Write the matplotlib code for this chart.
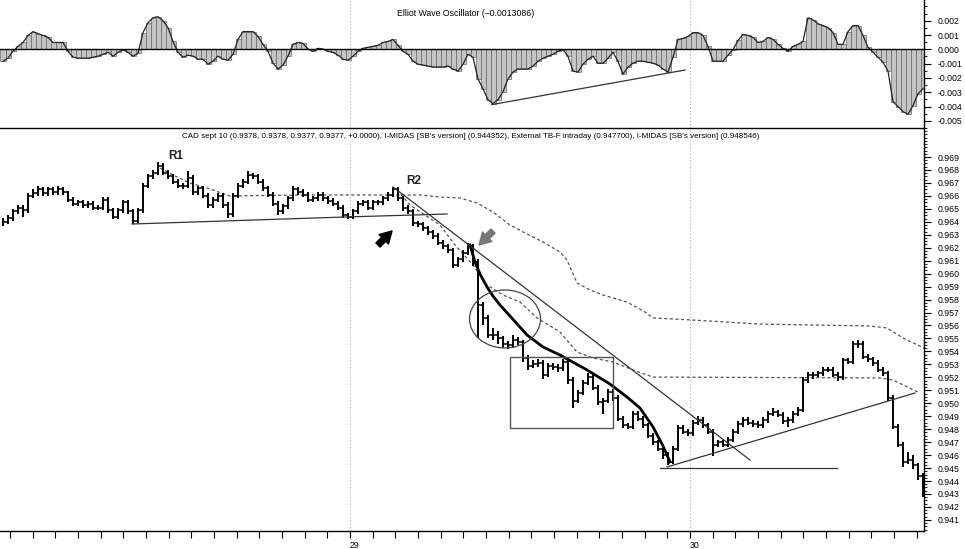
# CAD intraday chart with Elliott wave oscillator, MIDAS curves and annotations

import numpy as np
import matplotlib
matplotlib.use("Agg")
import matplotlib.pyplot as plt
from matplotlib.patches import Rectangle, Ellipse

plt.rcParams["font.family"] = ["Liberation Sans", "DejaVu Sans"]
plt.rcParams["axes.unicode_minus"] = False

# -----------------------------
# DATA  (prices quoted in pips = 1/10000)
# -----------------------------
PIP = 1e-4

high_pips = [
    9643, 9645, 9650, 9653, 9653, 9662, 9665, 9668, 9667, 9667,
    9667, 9668, 9667, 9664, 9659, 9657, 9657, 9656, 9656, 9653,
    9659, 9659, 9651, 9651, 9657, 9657, 9650, 9651, 9670, 9677,
    9680, 9686, 9685, 9680, 9677, 9673, 9670, 9679, 9676, 9668,
    9668, 9662, 9659, 9662, 9662, 9655, 9662, 9670, 9673, 9679,
    9678, 9677, 9673, 9668, 9663, 9656, 9654, 9660, 9668, 9667,
    9665, 9663, 9660, 9663, 9663, 9660, 9658, 9656, 9653, 9647,
    9650, 9656, 9657, 9657, 9657, 9657, 9660, 9663, 9667, 9667,
    9660, 9653, 9650, 9641, 9640, 9637, 9634, 9631, 9626, 9623,
    9620, 9613, 9618, 9624, 9623, 9611, 9578, 9568, 9558, 9556,
    9552, 9548, 9553, 9551, 9549, 9537, 9533, 9534, 9533, 9531,
    9531, 9530, 9534, 9534, 9520, 9510, 9518, 9523, 9522, 9514,
    9504, 9511, 9511, 9506, 9490, 9485, 9494, 9494, 9490, 9485,
    9477, 9472, 9467, 9462, 9467, 9483, 9483, 9480, 9487, 9490,
    9489, 9485, 9480, 9472, 9472, 9474, 9480, 9486, 9489, 9489,
    9487, 9486, 9489, 9494, 9496, 9495, 9493, 9489, 9494, 9497,
    9520, 9524, 9524, 9525, 9528, 9528, 9528, 9524, 9535, 9535,
    9548, 9549, 9548, 9538, 9536, 9533, 9528, 9525, 9506, 9484,
    9470, 9462, 9460, 9454, 9446,
]

low_pips = [
    9637, 9638, 9641, 9646, 9644, 9647, 9658, 9660, 9660, 9660,
    9661, 9661, 9661, 9655, 9652, 9652, 9651, 9651, 9649, 9649,
    9649, 9647, 9642, 9642, 9647, 9646, 9638, 9639, 9647, 9666,
    9673, 9676, 9676, 9673, 9669, 9666, 9665, 9666, 9661, 9661,
    9658, 9651, 9651, 9655, 9651, 9643, 9644, 9658, 9666, 9669,
    9673, 9669, 9664, 9659, 9652, 9645, 9646, 9650, 9656, 9661,
    9659, 9655, 9655, 9656, 9656, 9654, 9652, 9649, 9643, 9642,
    9642, 9646, 9652, 9649, 9649, 9653, 9653, 9656, 9659, 9656,
    9648, 9646, 9637, 9636, 9633, 9630, 9627, 9622, 9619, 9616,
    9604, 9605, 9609, 9614, 9606, 9550, 9560, 9550, 9549, 9546,
    9543, 9542, 9543, 9545, 9532, 9526, 9527, 9528, 9519, 9520,
    9526, 9524, 9525, 9515, 9496, 9500, 9506, 9514, 9510, 9499,
    9492, 9500, 9502, 9486, 9481, 9480, 9480, 9486, 9481, 9473,
    9468, 9463, 9457, 9452, 9453, 9463, 9476, 9475, 9475, 9483,
    9481, 9476, 9459, 9466, 9466, 9466, 9470, 9476, 9482, 9483,
    9482, 9481, 9481, 9485, 9490, 9489, 9484, 9482, 9485, 9490,
    9493, 9516, 9519, 9520, 9521, 9524, 9520, 9517, 9518, 9530,
    9530, 9543, 9534, 9532, 9529, 9524, 9521, 9502, 9480, 9466,
    9451, 9453, 9449, 9441, 9428,
]

close_pips = [
    9640, 9643, 9648, 9651, 9649, 9660, 9662, 9665, 9662, 9665,
    9663, 9665, 9663, 9657, 9654, 9655, 9653, 9654, 9651, 9651,
    9657, 9649, 9644, 9649, 9655, 9648, 9641, 9649, 9668, 9675,
    9678, 9683, 9678, 9675, 9671, 9668, 9668, 9674, 9663, 9666,
    9660, 9653, 9657, 9660, 9653, 9646, 9660, 9668, 9671, 9676,
    9675, 9671, 9666, 9661, 9654, 9648, 9652, 9658, 9665, 9663,
    9661, 9657, 9658, 9661, 9658, 9656, 9654, 9651, 9645, 9644,
    9648, 9654, 9655, 9651, 9655, 9655, 9658, 9661, 9665, 9658,
    9651, 9648, 9639, 9638, 9635, 9632, 9629, 9624, 9621, 9618,
    9607, 9611, 9616, 9621, 9609, 9576, 9566, 9553, 9553, 9550,
    9546, 9545, 9549, 9547, 9535, 9529, 9530, 9531, 9522, 9529,
    9528, 9527, 9532, 9518, 9502, 9508, 9516, 9520, 9512, 9501,
    9502, 9509, 9504, 9488, 9483, 9482, 9492, 9488, 9483, 9475,
    9470, 9465, 9460, 9455, 9465, 9481, 9478, 9477, 9485, 9487,
    9483, 9478, 9468, 9470, 9468, 9472, 9478, 9484, 9487, 9485,
    9484, 9483, 9487, 9492, 9493, 9491, 9486, 9487, 9492, 9495,
    9518, 9522, 9522, 9523, 9526, 9526, 9522, 9520, 9533, 9532,
    9546, 9546, 9536, 9534, 9531, 9526, 9523, 9504, 9482, 9468,
    9455, 9456, 9452, 9444, 9433,
]

# Elliott wave oscillator, one value per bar
osc = [
    -0.00083, -0.00062, -0.00014, 0.00021, 0.00048, 0.00097, 0.00124, 0.00110, 0.00097, 0.00083,
    0.00048, 0.00048, 0.00048, -0.00014, -0.00055, -0.00062, -0.00062, -0.00062, -0.00055, -0.00048,
    -0.00035, -0.00021, -0.00048, -0.00021, -0.00003, -0.00021, -0.00048, -0.00028, 0.00117, 0.00186,
    0.00221, 0.00228, 0.00200, 0.00152, 0.00055, -0.00021, -0.00055, -0.00041, -0.00048, -0.00069,
    -0.00069, -0.00104, -0.00083, -0.00048, -0.00069, -0.00076, -0.00035, 0.00069, 0.00124, 0.00124,
    0.00124, 0.00090, 0.00035, -0.00014, -0.00097, -0.00138, -0.00110, -0.00048, 0.00035, 0.00048,
    0.00041, 0.00002, -0.00014, 0.00007, 0.00002, -0.00014, -0.00021, -0.00041, -0.00069, -0.00076,
    -0.00048, -0.00014, 0.00007, 0.00014, 0.00021, 0.00028, 0.00048, 0.00055, 0.00069, 0.00028,
    -0.00014, -0.00035, -0.00083, -0.00104, -0.00110, -0.00117, -0.00124, -0.00124, -0.00124, -0.00117,
    -0.00138, -0.00152, -0.00104, -0.00035, -0.00055, -0.00207, -0.00276, -0.00352, -0.00380, -0.00352,
    -0.00297, -0.00207, -0.00159, -0.00138, -0.00138, -0.00138, -0.00117, -0.00083, -0.00062, -0.00048,
    -0.00035, -0.00014, -0.00003, -0.00048, -0.00152, -0.00159, -0.00104, -0.00069, -0.00048, -0.00097,
    -0.00097, -0.00062, -0.00021, -0.00083, -0.00173, -0.00124, -0.00097, -0.00083, -0.00083, -0.00090,
    -0.00097, -0.00110, -0.00138, -0.00159, -0.00055, 0.00069, 0.00076, 0.00090, 0.00117, 0.00117,
    0.00097, 0.00021, -0.00083, -0.00083, -0.00083, -0.00041, -0.00002, 0.00062, 0.00104, 0.00097,
    0.00083, 0.00048, 0.00055, 0.00083, 0.00069, 0.00035, 0.00007, -0.00014, 0.00021, 0.00035,
    0.00055, 0.00221, 0.00207, 0.00179, 0.00166, 0.00152, 0.00117, 0.00035, 0.00035, 0.00124,
    0.00166, 0.00166, 0.00097, 0.00014, -0.00021, -0.00055, -0.00090, -0.00152, -0.00366, -0.00400,
    -0.00435, -0.00455, -0.00393, -0.00311, -0.00276,
]

# session boundaries (bar index) and day labels
day_bars = [69.4, 137.4]
day_labels = ["29", "30"]
BARS_PER_DAY = 68

# I-MIDAS from R1 (dashed)
midas_r1_x = [31.4, 34.4, 37.4, 40.8, 45.4, 59.4, 83.4, 87.4, 91.4, 94.8, 98.0, 101.4, 104.8,
              108.0, 111.4, 112.8, 114.8, 117.4, 120.0, 124.8, 128.4, 130.0, 138.0, 151.4,
              173.4, 176.8, 180.0, 184.2]
midas_r1_y = [0.96815, 0.96753, 0.96699, 0.96661, 0.96599, 0.96607, 0.96607, 0.96591, 0.96584,
              0.96545, 0.96476, 0.96375, 0.96306, 0.96244, 0.96167, 0.96105, 0.95928, 0.95874,
              0.95835, 0.95781, 0.95704, 0.95658, 0.95642, 0.95611, 0.95596, 0.95581, 0.95503,
              0.95426]

# I-MIDAS from R2 (dashed)
midas_r2_x = [78.8, 81.4, 84.4, 87.4, 90.4, 94.0, 96.8, 100.0, 103.4, 106.8, 111.4, 114.8,
              118.0, 122.0, 126.0, 130.0, 175.4, 178.0, 183.4]
midas_r2_y = [0.96645, 0.96530, 0.96452, 0.96375, 0.96221, 0.96067, 0.95912, 0.95835, 0.95781,
              0.95658, 0.95550, 0.95395, 0.95349, 0.95318, 0.95257, 0.95202, 0.95195, 0.95179,
              0.95079]

# topfinder / bottomfinder curve (thick solid)
tbf_x = [93.4, 94.4, 95.4, 96.8, 98.0, 99.4, 101.4, 104.8, 108.0, 111.4, 116.8, 121.4, 124.8,
         127.4, 130.0, 132.0, 133.4]
tbf_y = [0.96221, 0.96090, 0.95997, 0.95897, 0.95827, 0.95758, 0.95673, 0.95527, 0.95434,
         0.95372, 0.95257, 0.95148, 0.95048, 0.94963, 0.94817, 0.94670, 0.94547]

# hand-drawn trend lines (x in bars, y in price)
support_x = [25.8, 68.4, 88.8]
support_y = [0.96383, 0.96437, 0.96460]
downtrend_x = [78.0, 149.4]
downtrend_y = [0.96669, 0.94562]
uptrend_x = [132.8, 182.4]
uptrend_y = [0.94508, 0.95079]
floor_x = [131.4, 166.8]
floor_y = [0.94500, 0.94500]
osc_trend_x = [97.8, 136.4]
osc_trend_y = [-0.003862, -0.001448]

# -----------------------------
# FIGURE
# -----------------------------
W, H = 965, 549
fig = plt.figure(figsize=(W / 100, H / 100), dpi=100)
right = 924 / W
ax_osc = fig.add_axes([0, 1 - 128 / H, right, 128 / H])
ax = fig.add_axes([0, 1 - 531 / H, right, (531 - 128) / H])

idx = np.arange(len(close_pips))
high = np.array(high_pips) * PIP
low = np.array(low_pips) * PIP
close = np.array(close_pips) * PIP

XLIM = (-0.6, 184.2)
grid_kw = dict(color="#b0b0b0", ls=(0, (1, 2)), lw=0.8, zorder=0)
line_kw = dict(color="#333333", lw=0.9)
dash_kw = dict(color="#555555", lw=0.9, ls=(0, (2.5, 2)))

# ---- oscillator panel ----
ax_osc.bar(idx, osc, width=1.0, color="#c4c4c4", edgecolor="#666666", linewidth=0.5, zorder=2)
ax_osc.plot(idx, osc, color="#222222", lw=0.9, zorder=3)
ax_osc.axhline(0, color="black", lw=1.0, zorder=4)
ax_osc.plot(osc_trend_x, osc_trend_y, **line_kw, zorder=5)
for d in day_bars:
    ax_osc.axvline(d, **grid_kw)
ax_osc.set_xlim(*XLIM)
ax_osc.set_ylim(-0.005379, 0.003448)
ax_osc.text(466 / 924, 1 - 14 / 128, "Elliot Wave Oscillator (\u20130.0013086)",
            transform=ax_osc.transAxes, ha="center", va="center", fontsize=6.3)

# ---- price panel (HLC bars, open tick = previous close) ----
ax.vlines(idx, low, high, color="black", lw=1.4, zorder=3)
ax.hlines(close, idx, idx + 0.5, color="black", lw=1.1, zorder=3)
ax.hlines(close[:-1], idx[1:] - 0.5, idx[1:], color="black", lw=1.1, zorder=3)
for d in day_bars:
    ax.axvline(d, **grid_kw)

ax.plot(midas_r1_x, midas_r1_y, **dash_kw, zorder=2)
ax.plot(midas_r2_x, midas_r2_y, **dash_kw, zorder=2)
ax.plot(tbf_x, tbf_y, color="black", lw=2.0, zorder=4)
for xs, ys in [(support_x, support_y), (downtrend_x, downtrend_y),
               (uptrend_x, uptrend_y), (floor_x, floor_y)]:
    ax.plot(xs, ys, **line_kw, zorder=4)

ax.add_patch(Rectangle((101.4, 0.94809), 20.6, 0.95357 - 0.94809,
                       fill=False, edgecolor="#555555", lw=1.0, zorder=4))
ax.add_patch(Ellipse((100.4, 0.95650), 14.2, 0.004475,
                     fill=False, edgecolor="#444444", lw=0.9, zorder=4))

arrow_style = "simple,head_length=0.7,head_width=0.8,tail_width=0.35"
ax.annotate("", xy=(77.8, 0.96329), xytext=(75.0, 0.96221),
            arrowprops=dict(arrowstyle=arrow_style, color="black", mutation_scale=12,
                            shrinkA=0, shrinkB=0))
ax.annotate("", xy=(95.2, 0.96221), xytext=(98.0, 0.96329),
            arrowprops=dict(arrowstyle=arrow_style, color="#777777", mutation_scale=12,
                            shrinkA=0, shrinkB=0))
ax.text(34.6, 0.96905, "R1", ha="center", va="center", fontsize=8.5, fontweight="bold",
        color="#222222")
ax.text(82.2, 0.96715, "R2", ha="center", va="center", fontsize=8.5, fontweight="bold",
        color="#222222")

ax.text(471 / 924, 1 - 9 / 403,
        "CAD sept 10 (0.9378, 0.9378, 0.9377, 0.9377, +0.0000), I-MIDAS [SB's version] (0.944352), "
        "External TB-F intraday (0.947700), I-MIDAS [SB's version] (0.948546)",
        transform=ax.transAxes, ha="center", va="center", fontsize=5.8)

ax.set_xlim(*XLIM)
ax.set_ylim(0.940142, 0.971238)

# ---- axes styling ----
for a in (ax, ax_osc):
    a.spines["top"].set_visible(False)
    a.spines["left"].set_visible(False)
    a.spines["right"].set_linewidth(1.0)
    a.spines["bottom"].set_linewidth(1.0)
    a.yaxis.tick_right()
    a.tick_params(axis="y", which="major", direction="out", length=5, width=0.8,
                  labelsize=6.3, pad=5)
    a.tick_params(axis="y", which="minor", direction="out", length=2.5, width=0.6)
    a.patch.set_alpha(0)

ax.set_yticks(np.round(np.arange(0.941, 0.9695, 0.001), 3))
ax.set_yticks(np.arange(0.94025, 0.9712, 0.00025), minor=True)
ax.yaxis.set_major_formatter(matplotlib.ticker.FormatStrFormatter("%.3f"))

ax_osc.set_yticks(np.round(np.arange(-0.005, 0.0021, 0.001), 3))
ax_osc.set_yticks(np.arange(-0.0055, 0.0035, 0.0005), minor=True)
ax_osc.yaxis.set_major_formatter(matplotlib.ticker.FormatStrFormatter("%.3f"))
ax_osc.tick_params(axis="x", which="both", bottom=False, labelbottom=False)

step = BARS_PER_DAY / 15
minor_x = day_bars[0] + step * np.arange(-16, 26)
minor_x = minor_x[(minor_x > XLIM[0]) & (minor_x < XLIM[1])]
ax.set_xticks(day_bars)
ax.set_xticklabels(day_labels)
ax.set_xticks(minor_x, minor=True)
ax.tick_params(axis="x", which="both", direction="out", length=5, width=0.8,
               labelsize=6.3, pad=2)
for t in ax.get_xticklabels():
    t.set_ha("left")

plt.savefig("out.png", dpi=100)
